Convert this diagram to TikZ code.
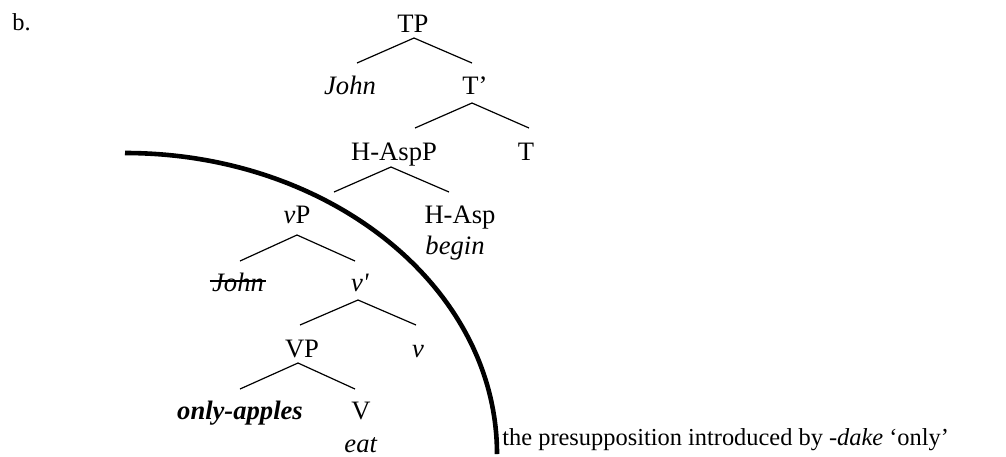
\documentclass[tikz,border=0pt]{standalone}
\usepackage{fontspec}
\setmainfont{Liberation Serif}
\begin{document}
\begin{tikzpicture}[x=0.5pt,y=-0.5pt,
  lbl/.style={anchor=base,inner sep=0pt,font=\fontsize{13.3}{15}\selectfont},
  txt/.style={anchor=base west,inner sep=0pt,font=\fontsize{12.2}{14}\selectfont},
  branch/.style={line width=0.6pt},
  scopeline/.style={line width=2.3pt}]
\useasboundingbox (0,0) rectangle (1006,456);

% example label
\node[txt] (ex) at (12,30) {b.};

% tree labels
\node[lbl] (TP)   at (413,32)  {TP};
\node[lbl] (John) at (350,94)  {\textit{John}};
\node[lbl] (Tbar) at (475,94)  {T’};
\node[lbl] (HAspP) at (394,160) {H-AspP};
\node[lbl] (T)    at (526,160) {T};
\node[lbl] (vP)   at (297,223) {\textit{v}P};
\node[lbl] (HAsp) at (460,223) {H-Asp};
\node[lbl] (begin) at (455,254) {\textit{begin}};
\node[lbl] (Jtr)  at (238,291) {\textit{John}};
\node[lbl] (vbar) at (360,291) {\textit{v}\textit{\textquotesingle}};
\node[lbl] (VP)   at (302,357) {VP};
\node[lbl] (v)    at (418,357) {\textit{v}};
\node[lbl] (obj)  at (240,419) {\textbf{\textit{only-apples}}};
\node[lbl] (V)    at (361,419) {V};
\node[lbl] (eat)  at (361,452) {\textit{eat}};

% trace of the subject struck out
\draw[line width=0.6pt] ([xshift=-1pt,yshift=5pt]Jtr.base west) -- ([xshift=1pt,yshift=5pt]Jtr.base east);

% branch points
\coordinate (TP-a) at (414,38);   \coordinate (TP-l) at (357,63);   \coordinate (TP-r) at (472,63);
\coordinate (Tb-a) at (472,103);  \coordinate (Tb-l) at (415,128);  \coordinate (Tb-r) at (529,128);
\coordinate (HA-a) at (391,167);  \coordinate (HA-l) at (334,192);  \coordinate (HA-r) at (449,192);
\coordinate (vP-a) at (297,235);  \coordinate (vP-l) at (240,261);  \coordinate (vP-r) at (355,261);
\coordinate (vb-a) at (358,300);  \coordinate (vb-l) at (300,325);  \coordinate (vb-r) at (416,325);
\coordinate (VP-a) at (298,363);  \coordinate (VP-l) at (240,389);  \coordinate (VP-r) at (355,389);

\foreach \n in {TP,Tb,HA,vP,vb,VP}{
  \draw[branch] (\n-l) -- (\n-a) -- (\n-r);
}

% boundary of the presupposition
\coordinate (arc-s) at (125,153);
\draw[scopeline] (arc-s) arc[start angle=-90,end angle=0,x radius=372,y radius=301] coordinate (arc-e);

\node[txt] (note) at (502,445)
  {the presupposition introduced by \textit{-dake} ‘only’};
\end{tikzpicture}
\end{document}
